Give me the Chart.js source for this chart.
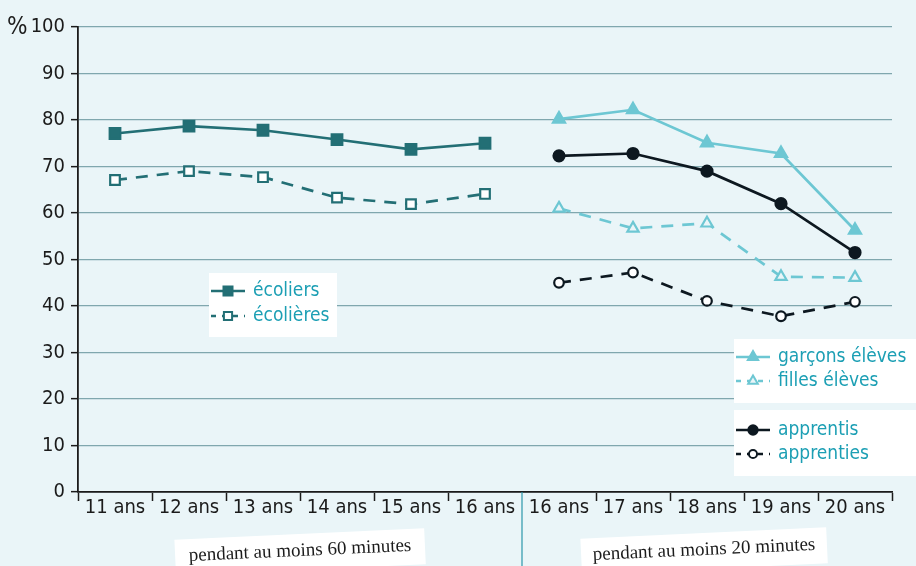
<!DOCTYPE html>
<html>
<head>
<meta charset="utf-8">
<script src="https://cdn.jsdelivr.net/npm/chart.js@4"></script>
<style>
  html, body { margin: 0; padding: 0; background: #eaf5f8; }
  #wrap { width: 916px; height: 566px; position: relative; }
</style>
</head>
<body>
<div id="wrap"><canvas id="chart1"></canvas></div>
<script>
var ageLabels = ["11 ans", "12 ans", "13 ans", "14 ans", "15 ans", "16 ans",
                 "16 ans", "17 ans", "18 ans", "19 ans", "20 ans"];
var yTicks = [0, 10, 20, 30, 40, 50, 60, 70, 80, 90, 100];

// pendant au moins 60 minutes (11-16 ans)
var ecoliers = [77.1, 78.7, 77.8, 75.8, 73.7, 75.0];
var ecolieres = [67.1, 69.0, 67.7, 63.3, 61.9, 64.1];

// pendant au moins 20 minutes (16-20 ans)
var garconsEleves = [80.2, 82.2, 75.1, 72.8, 56.3];
var fillesEleves = [61.0, 56.7, 57.8, 46.3, 46.1];
var apprentis = [72.3, 72.8, 69.0, 62.0, 51.5];
var apprenties = [45.0, 47.2, 41.1, 37.8, 40.9];

var groupLabels = ["pendant au moins 60 minutes", "pendant au moins 20 minutes"];

var teal = "#236f75";
var cyan = "#6dc7d3";
var black = "#0d1820";
var legendText = "#1c9fb4";
var condensed = "'Liberation Sans Narrow', 'DejaVu Sans Condensed', sans-serif";

function firstGroup(arr) {
  return arr.concat([null, null, null, null, null]);
}
function secondGroup(arr) {
  return [null, null, null, null, null, null].concat(arr);
}

var datasets = [
  { label: "écoliers", data: firstGroup(ecoliers), borderColor: teal, backgroundColor: teal,
    pointStyle: "rect", pointRadius: 7.5, pointBackgroundColor: teal, borderDash: [] },
  { label: "écolières", data: firstGroup(ecolieres), borderColor: teal, backgroundColor: teal,
    pointStyle: "rect", pointRadius: 6.8, pointBackgroundColor: "#ffffff", borderDash: [12, 9] },
  { label: "garçons élèves", data: secondGroup(garconsEleves), borderColor: cyan, backgroundColor: cyan,
    pointStyle: "triangle", pointRadius: 7, pointBackgroundColor: cyan, borderDash: [] },
  { label: "filles élèves", data: secondGroup(fillesEleves), borderColor: cyan, backgroundColor: cyan,
    pointStyle: "triangle", pointRadius: 6.5, pointBackgroundColor: "#eaf5f8", borderDash: [12, 9] },
  { label: "apprentis", data: secondGroup(apprentis), borderColor: black, backgroundColor: black,
    pointStyle: "circle", pointRadius: 5.5, pointBackgroundColor: black, borderDash: [] },
  { label: "apprenties", data: secondGroup(apprenties), borderColor: black, backgroundColor: black,
    pointStyle: "circle", pointRadius: 4.8, pointBackgroundColor: "#ffffff", borderDash: [12, 9] }
];
datasets.forEach(function (d) {
  d.borderWidth = 2.7;
  d.pointBorderWidth = 2.2;
  d.pointBorderColor = d.borderColor;
  d.pointHoverRadius = d.pointRadius;
  d.fill = false;
  d.tension = 0;
});

function drawMarker(ctx, ds, x, y) {
  ctx.save();
  ctx.strokeStyle = ds.borderColor;
  ctx.lineWidth = 2.5;
  ctx.setLineDash(ds.borderDash.length ? [5, 6] : []);
  ctx.beginPath();
  ctx.moveTo(x - 17, y);
  ctx.lineTo(x + 17, y);
  ctx.stroke();
  ctx.setLineDash([]);
  ctx.lineWidth = 2;
  ctx.fillStyle = ds.pointBackgroundColor;
  Chart.helpers.drawPoint(ctx, {
    pointStyle: ds.pointStyle, rotation: 0, borderWidth: 2,
    radius: ds.pointRadius * 0.85
  }, x, y);
  ctx.restore();
}

var extras = {
  id: "extras",
  afterDraw: function (chart) {
    var ctx = chart.ctx;
    var xs = chart.scales.x;
    var area = chart.chartArea;
    ctx.save();

    // divider between the two groups
    var mid = (xs.getPixelForTick(5) + xs.getPixelForTick(6)) / 2;
    ctx.fillStyle = "#eaf5f8";
    ctx.fillRect(mid - 2, area.bottom + 1, 4, 12);
    ctx.strokeStyle = "#2a97ab";
    ctx.lineWidth = 1.2;
    ctx.beginPath();
    ctx.moveTo(mid, area.bottom);
    ctx.lineTo(mid, chart.height);
    ctx.stroke();

    // % unit label
    ctx.fillStyle = "#1b1b1b";
    ctx.font = "24px " + condensed;
    ctx.textAlign = "left";
    ctx.textBaseline = "middle";
    ctx.fillText("%", 7, area.top + 1);

    // legend boxes
    var boxes = [
      { x: 209, y: 273, w: 128, h: 64, items: [0, 1], rows: [291, 316], mx: 228 },
      { x: 734, y: 339, w: 182, h: 64, items: [2, 3], rows: [357, 381], mx: 753 },
      { x: 734, y: 410, w: 182, h: 66, items: [4, 5], rows: [430, 454], mx: 753 }
    ];
    boxes.forEach(function (b) {
      ctx.fillStyle = "#ffffff";
      ctx.fillRect(b.x, b.y, b.w, b.h);
      b.items.forEach(function (idx, i) {
        var ds = chart.data.datasets[idx];
        drawMarker(ctx, ds, b.mx, b.rows[i]);
        ctx.fillStyle = legendText;
        ctx.font = "19px " + condensed;
        ctx.textAlign = "left";
        ctx.textBaseline = "middle";
        ctx.fillText(ds.label, b.mx + 25, b.rows[i]);
      });
    });

    // group captions, slightly tilted
    var caps = [
      { cx: 300, cy: 550, w: 250 },
      { cx: 704, cy: 549, w: 246 }
    ];
    caps.forEach(function (c, i) {
      ctx.save();
      ctx.translate(c.cx, c.cy);
      ctx.rotate(-0.046);
      ctx.fillStyle = "#ffffff";
      ctx.fillRect(-c.w / 2, -16, c.w, 36);
      ctx.fillStyle = "#1b1b1b";
      ctx.font = "19px 'Liberation Serif', 'DejaVu Serif', serif";
      ctx.textAlign = "center";
      ctx.textBaseline = "middle";
      ctx.fillText(groupLabels[i], 0, 1);
      ctx.restore();
    });

    ctx.restore();
  }
};

var ctx = document.getElementById("chart1").getContext("2d");
var myChart = new Chart(ctx, {
  type: "line",
  data: { labels: ageLabels, datasets: datasets },
  options: {
    responsive: true,
    maintainAspectRatio: false,
    animation: false,
    events: [],
    layout: { padding: { top: 27, right: 24, left: 0, bottom: 0 } },
    plugins: {
      legend: { display: false },
      tooltip: { enabled: false },
      title: { display: false }
    },
    scales: {
      x: {
        type: "category",
        offset: true,
        grid: {
          display: true,
          drawOnChartArea: false,
          drawTicks: true,
          tickLength: 9,
          tickColor: "#1b1b1b",
          tickWidth: 1.5,
          offset: true
        },
        border: { display: true, color: "#1b1b1b", width: 1.8 },
        ticks: {
          color: "#1b1b1b",
          font: { family: condensed, size: 20 },
          padding: -5,
          maxRotation: 0,
          autoSkip: false
        },
        afterFit: function (scale) { scale.height = 74; }
      },
      y: {
        min: 0,
        max: 100,
        afterBuildTicks: function (scale) {
          scale.ticks = yTicks.map(function (v) { return { value: v }; });
        },
        grid: {
          color: "#80a7ae",
          lineWidth: 1.3,
          drawTicks: true,
          tickLength: 7,
          tickColor: "#1b1b1b",
          tickWidth: 1.5
        },
        border: { display: true, color: "#1b1b1b", width: 1.8 },
        ticks: {
          color: "#1b1b1b",
          font: { family: condensed, size: 20 },
          padding: 6
        },
        afterFit: function (scale) { scale.width = 78; }
      }
    }
  },
  plugins: [extras]
});
</script>
</body>
</html>
